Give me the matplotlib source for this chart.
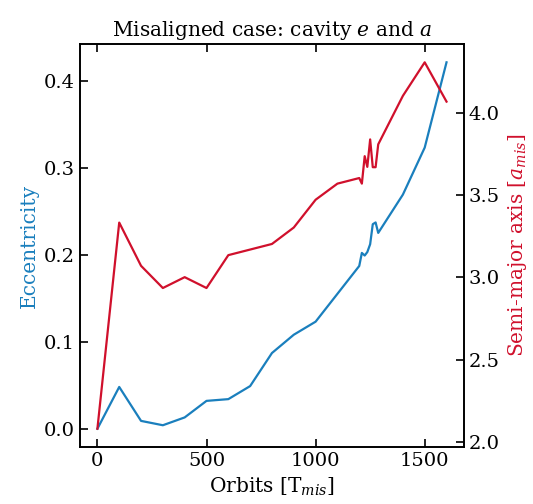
import matplotlib

matplotlib.use("Agg")
import matplotlib.pyplot as plt

plt.rcParams["font.family"] = "DejaVu Serif"
plt.rcParams["mathtext.fontset"] = "dejavuserif"

# orbit sample points shared by both series
orbits = [0, 100, 200, 300, 400, 500, 600, 700, 800, 900, 1000, 1100, 1200,
          1212, 1225, 1237, 1250, 1262, 1275, 1287, 1400, 1500, 1600]
ecc = [0.0, 0.048, 0.009, 0.004, 0.013, 0.032, 0.034, 0.049, 0.087, 0.108, 0.123,
       0.155, 0.187, 0.202, 0.199, 0.203, 0.212, 0.235, 0.237, 0.225, 0.269, 0.323, 0.421]
semi = [2.08, 3.334, 3.071, 2.936, 3.002, 2.936, 3.136, 3.17, 3.204, 3.304, 3.473,
        3.571, 3.605, 3.571, 3.738, 3.673, 3.84, 3.671, 3.671, 3.81, 4.105, 4.309, 4.07]

c_e = "#1a7fbd"
c_a = "#d0102c"

fig = plt.figure(figsize=(5.33, 5.04), dpi=100)
ax = fig.add_axes([0.150, 0.113, 0.7205, 0.7997])
ax.plot(orbits, ecc, color=c_e, lw=1.6)
ax.set_xlabel("Orbits [T$_{mis}$]", fontsize=14.5)
ax.set_ylabel("Eccentricity", color=c_e, fontsize=14.5)
ax.set_xticks([0, 500, 1000, 1500])
ax.set_yticks([0.0, 0.1, 0.2, 0.3, 0.4])
ax.tick_params(direction="in", top=True, length=6, width=1.2, labelsize=14)

ax2 = ax.twinx()
ax2.plot(orbits, semi, color=c_a, lw=1.6)
ax2.set_ylabel("Semi-major axis [$a_{mis}$]", color=c_a, fontsize=14.5)
ax2.set_yticks([2.0, 2.5, 3.0, 3.5, 4.0])
ax2.tick_params(direction="in", length=6, width=1.2, labelsize=14)

for a in (ax, ax2):
    for s in a.spines.values():
        s.set_linewidth(1.2)

ax.set_title("Misaligned case: cavity $e$ and $a$", fontsize=14.5)
fig.savefig("out.png", dpi=100)
